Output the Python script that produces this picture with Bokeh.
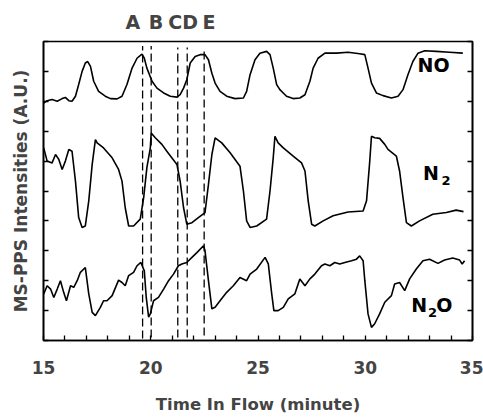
from bokeh.plotting import figure
from bokeh.models import LinearAxis, FixedTicker, ColumnDataSource, Range1d
from bokeh.core.properties import value
from bokeh.embed import file_html
from bokeh.resources import INLINE

# ---- data (time in minutes, intensity in arbitrary units) ----
no_t = [15.01, 15.17, 15.40, 15.64, 15.87, 16.02, 16.18, 16.33, 16.49, 16.64, 16.80, 16.95, 17.06, 17.19,
        17.34, 17.57, 17.88, 18.12, 18.43, 18.66, 18.89, 19.13, 19.36, 19.59, 19.70, 19.82, 20.06, 20.29,
        20.60, 20.91, 21.22, 21.37, 21.53, 21.68, 21.84, 22.07, 22.30, 22.53, 22.69, 22.85, 23.00, 23.23,
        23.54, 23.93, 24.32, 24.47, 24.63, 24.86, 25.09, 25.40, 25.56, 25.71, 25.87, 26.02, 26.33, 26.64,
        26.95, 27.19, 27.42, 27.57, 27.80, 28.12, 28.66, 29.20, 29.74, 29.98, 30.13, 30.29, 30.52, 30.83,
        31.22, 31.53, 31.76, 31.99, 32.22, 32.46, 32.77, 33.31, 33.93, 34.55]
no_v = [7.94, 8.02, 8.06, 8.00, 8.09, 8.13, 8.02, 8.00, 8.17, 8.56, 9.00, 9.28, 9.33, 9.17,
        8.67, 8.33, 8.17, 8.09, 8.08, 8.17, 8.56, 9.11, 9.44, 9.58, 9.44, 9.11, 8.67, 8.44,
        8.28, 8.17, 8.14, 8.22, 8.44, 8.72, 9.28, 9.50, 9.56, 9.56, 9.39, 8.94, 8.61, 8.33,
        8.17, 8.09, 8.11, 8.33, 8.89, 9.39, 9.61, 9.67, 9.56, 9.11, 8.56, 8.39, 8.17, 8.09,
        8.11, 8.22, 8.67, 9.11, 9.44, 9.61, 9.61, 9.64, 9.59, 9.56, 9.11, 8.61, 8.28, 8.19,
        8.11, 8.17, 8.39, 8.89, 9.33, 9.61, 9.69, 9.67, 9.64, 9.61]

n2_t = [15.01, 15.17, 15.40, 15.56, 15.71, 15.87, 16.02, 16.18, 16.33, 16.49, 16.64, 16.80, 16.95, 17.11,
        17.27, 17.42, 17.50, 17.80, 18.20, 18.50, 18.66, 18.81, 18.97, 19.20, 19.51, 19.67, 19.82, 19.98,
        20.02, 20.21, 20.52, 20.75, 21.22, 21.37, 21.53, 21.68, 21.92, 22.22, 22.53, 22.69, 22.85, 23.00,
        23.31, 23.70, 24.16, 24.32, 24.47, 24.63, 24.94, 25.40, 25.56, 25.71, 25.79, 25.94, 26.18, 26.64,
        27.03, 27.19, 27.34, 27.50, 27.65, 28.04, 28.50, 29.20, 29.90, 30.06, 30.21, 30.29, 30.44, 30.67,
        30.91, 31.06, 31.45, 31.60, 31.76, 31.92, 32.15, 32.53, 33.15, 33.78, 34.24, 34.58]
n2_v = [6.44, 6.00, 5.94, 6.22, 6.06, 5.72, 6.00, 6.39, 6.33, 5.33, 4.11, 3.78, 3.83, 4.67,
        5.89, 6.72, 6.61, 6.44, 6.11, 5.72, 5.33, 4.44, 3.83, 3.83, 4.06, 4.78, 5.78, 6.44,
        6.94, 6.78, 6.56, 6.33, 5.89, 5.33, 4.44, 3.89, 3.94, 4.11, 4.28, 5.22, 6.22, 6.78,
        6.61, 6.28, 5.83, 5.00, 4.00, 3.78, 3.83, 4.06, 5.00, 6.11, 6.83, 6.61, 6.44, 6.17,
        5.94, 5.67, 4.67, 3.89, 3.83, 4.00, 4.17, 4.30, 4.33, 4.67, 6.00, 6.83, 6.78, 6.76,
        6.56, 6.39, 6.17, 5.67, 4.78, 3.94, 3.83, 4.00, 4.22, 4.28, 4.36, 4.31]

n2o_t = [15.01, 15.17, 15.33, 15.48, 15.64, 15.79, 15.94, 16.07, 16.26, 16.41, 16.57, 16.72, 16.95, 17.11,
         17.27, 17.42, 17.65, 17.80, 17.96, 18.20, 18.50, 18.66, 18.81, 18.97, 19.20, 19.36, 19.54, 19.70,
         19.79, 19.90, 19.98, 20.13, 20.36, 20.60, 20.83, 21.06, 21.29, 21.45, 21.68, 21.92, 22.15, 22.46,
         22.53, 22.69, 22.85, 23.00, 23.23, 23.54, 23.85, 24.16, 24.47, 24.63, 24.94, 25.33, 25.48, 25.64,
         25.74, 25.94, 26.18, 26.41, 26.72, 26.95, 27.19, 27.42, 27.65, 27.96, 28.12, 28.35, 28.58, 28.81,
         29.05, 29.36, 29.59, 29.74, 29.90, 29.98, 30.13, 30.29, 30.44, 30.67, 30.91, 31.22, 31.37, 31.60,
         31.84, 32.07, 32.38, 32.69, 33.00, 33.39, 33.70, 34.08, 34.40, 34.52, 34.63]
n2o_v = [1.56, 1.83, 1.72, 1.44, 1.72, 2.00, 1.61, 1.33, 1.83, 1.78, 2.00, 2.28, 2.44, 1.56,
         0.94, 0.83, 1.11, 1.33, 1.33, 1.50, 2.02, 1.94, 1.83, 2.17, 2.28, 2.50, 2.61, 2.33,
         1.44, 0.78, 0.89, 1.33, 1.44, 1.72, 2.00, 2.22, 2.50, 2.56, 2.61, 2.78, 2.94, 3.17,
         3.00, 2.00, 1.06, 1.11, 1.33, 1.61, 1.83, 2.11, 2.00, 2.22, 2.39, 2.78, 2.56, 1.56,
         1.00, 1.00, 1.11, 1.39, 1.56, 2.06, 1.83, 2.06, 2.22, 2.50, 2.56, 2.50, 2.61, 2.56,
         2.61, 2.67, 2.72, 2.83, 2.67, 2.00, 0.89, 0.44, 0.56, 0.89, 1.28, 1.50, 1.89, 1.94,
         1.67, 2.06, 2.39, 2.67, 2.72, 2.58, 2.69, 2.76, 2.69, 2.56, 2.67]

# marker lines A-E
marker_letters = ["A", "B", "C", "D", "E"]
marker_label_pos = [19.16, 20.25, 21.14, 21.84, 22.72]
marker_times = [19.62, 20.02, 21.26, 21.70, 22.49]
marker_bottom = [0.07, 0.10, 0.10, 0.10, 0.17]
marker_top = [9.85, 9.85, 9.80, 9.80, 9.73]

# curve labels
label_main = ["NO", "N", "N", "O"]
label_main_t = [32.44, 32.69, 32.15, 33.31]
label_main_v = [9.21, 5.61, 1.20, 1.20]
label_sub = ["2", "2"]
label_sub_t = [33.55, 32.93]
label_sub_v = [5.34, 0.93]

x_major = [15, 20, 25, 30, 35]
x_minor = [16, 17, 18, 19, 21, 22, 23, 24, 26, 27, 28, 29, 31, 32, 33, 34]
y_ticks = [0, 1, 2, 3, 4, 5, 6, 7, 8, 9, 10]

BOLD = "DejaVu Sans"

p = figure(width=483, height=419, x_range=Range1d(15, 35), y_range=Range1d(0, 10),
           output_backend="svg", toolbar_location=None, x_axis_location=None, y_axis_location=None,
           min_border_left=43, min_border_right=11, min_border_top=41, min_border_bottom=79)
p.grid.visible = False
p.outline_line_color = "black"
p.outline_line_width = 1.6
p.background_fill_color = "white"
p.border_fill_color = "white"

# bottom axis
xb = LinearAxis(ticker=FixedTicker(ticks=x_major, minor_ticks=x_minor))
xb.axis_label = "Time In Flow (minute)"
xb.axis_label_text_font = BOLD
xb.axis_label_text_font_style = "bold"
xb.axis_label_text_font_size = "16.5px"
xb.axis_label_standoff = 18
xb.major_label_text_font = BOLD
xb.major_label_text_font_style = "bold"
xb.major_label_text_font_size = "17px"
xb.major_label_standoff = 20
xb.major_tick_in = 5
xb.major_tick_out = 0
xb.minor_tick_in = 5
xb.minor_tick_out = 0
xb.axis_line_width = 1.6
xb.major_tick_line_width = 1.3
xb.minor_tick_line_width = 1.3
p.add_layout(xb, "below")

# left axis
yl = LinearAxis(ticker=FixedTicker(ticks=y_ticks, minor_ticks=[]),
                major_label_overrides={t: "" for t in y_ticks})
yl.axis_label = "MS-PPS Intensities (A.U.)"
yl.axis_label_text_font = BOLD
yl.axis_label_text_font_style = "bold"
yl.axis_label_text_font_size = "17px"
yl.axis_label_standoff = 13
yl.major_label_standoff = 0
yl.major_tick_in = 5
yl.major_tick_out = 0
yl.axis_line_width = 1.6
yl.major_tick_line_width = 1.3
p.add_layout(yl, "left")

# right axis
yr = LinearAxis(ticker=FixedTicker(ticks=y_ticks, minor_ticks=[]),
                major_label_overrides={t: "" for t in y_ticks})
yr.major_label_standoff = 0
yr.major_tick_in = 5
yr.major_tick_out = 0
yr.axis_line_width = 1.6
yr.major_tick_line_width = 1.3
p.add_layout(yr, "right")

# top: letters for marker lines
xt = LinearAxis(ticker=FixedTicker(ticks=marker_label_pos, minor_ticks=[]),
                major_label_overrides={pos: lab for pos, lab in zip(marker_label_pos, marker_letters)})
xt.axis_line_color = None
xt.major_tick_line_color = None
xt.major_label_text_font = BOLD
xt.major_label_text_font_style = "bold"
xt.major_label_text_font_size = "19px"
xt.major_label_standoff = 3
p.add_layout(xt, "above")

# curves
for t, v in [(no_t, no_v), (n2_t, n2_v), (n2o_t, n2o_v)]:
    p.line(t, v, line_color="black", line_width=1.6)

# dashed marker lines
p.segment(x0=marker_times, y0=marker_bottom, x1=marker_times, y1=marker_top,
          line_color="black", line_width=1.3, line_dash="8 4")

big = ColumnDataSource(dict(x=label_main_t, y=label_main_v, t=label_main))
small = ColumnDataSource(dict(x=label_sub_t, y=label_sub_v, t=label_sub))
p.text(x="x", y="y", text="t", source=big, text_font=value(BOLD), text_font_style="bold",
       text_font_size="19px", text_baseline="alphabetic", text_align="left", text_color="black")
p.text(x="x", y="y", text="t", source=small, text_font=value(BOLD), text_font_style="bold",
       text_font_size="13px", text_baseline="alphabetic", text_align="left", text_color="black")

open("out.html", "w").write(file_html(p, INLINE))
